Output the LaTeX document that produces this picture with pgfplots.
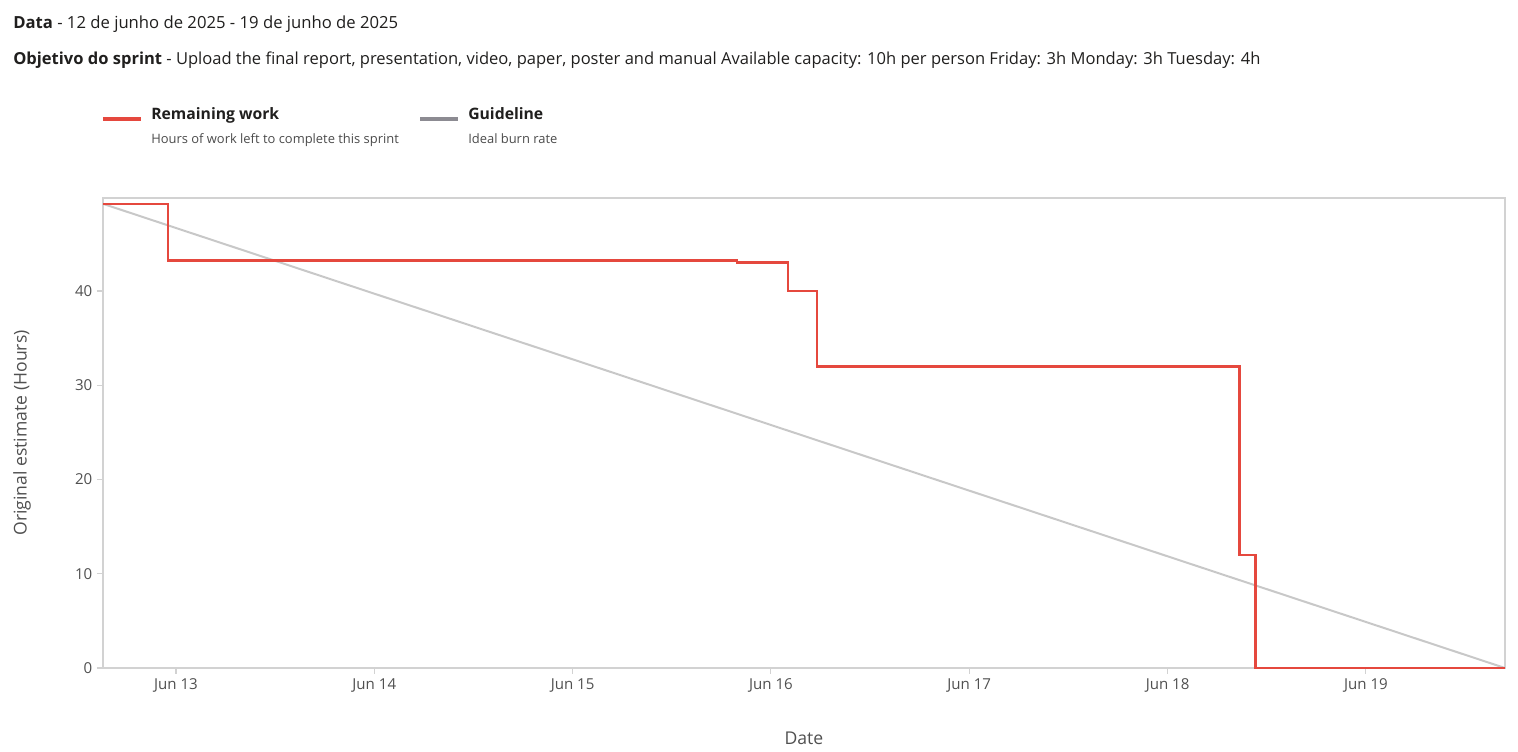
\documentclass[border=0pt]{standalone}
\usepackage{pgfplots}
\pgfplotsset{compat=1.18}
\usepackage{fontspec}
\setmainfont{Open Sans}
\definecolor{redline}{RGB}{229,72,62}
\definecolor{guide}{RGB}{200,200,200}
\definecolor{framec}{RGB}{210,210,210}
\definecolor{ticktext}{RGB}{80,80,80}
\definecolor{legswatch}{RGB}{140,139,146}
\definecolor{dark}{RGB}{32,31,30}
\definecolor{subtext}{RGB}{75,75,75}
\begin{document}
\begin{tikzpicture}
\path[use as bounding box] (-77.25pt,-63pt) rectangle (1061.25pt,501pt);
\begin{axis}[
  at={(0,0)}, anchor=south west,
  scale only axis, width=1051.5pt, height=352.5pt,
  xmin=12.632, xmax=19.701, ymin=0, ymax=49.87,
  axis line style={framec, line width=1.2pt},
  xtick={13,14,15,16,17,18,19},
  xticklabels={Jun 13,Jun 14,Jun 15,Jun 16,Jun 17,Jun 18,Jun 19},
  ytick={0,10,20,30,40},
  xtick pos=bottom, ytick pos=left,
  tick align=outside, major tick length=4.5pt,
  tick style={framec, line width=0.8pt},
  tick label style={font=\fontsize{11.3}{13}\selectfont, text=ticktext},
  /pgf/number format/assume math mode=true,
  xlabel={Date}, ylabel={Original estimate (Hours)},
  label style={font=\fontsize{13.2}{15}\selectfont, text=ticktext},
  x label style={at={(axis description cs:0.5,-0.149)}, anchor=center},
  y label style={at={(axis description cs:-0.0578,0.5)}, anchor=center},
  clip=false,
]
\addplot[guide, line width=1.5pt] coordinates {(12.632,49.25) (19.701,0)};
\addplot[redline, line width=2pt, const plot] coordinates {
  (12.632,49.25) (12.96,43.25) (15.829,43) (16.086,40) (16.232,32)
  (18.363,12) (18.444,0) (19.701,0)};
\end{axis}
\begin{scope}[x=0.75pt, y=-0.75pt, shift={(-103,-668)}]
  \node[anchor=base west, inner sep=0, text=dark, font=\fontsize{12.5}{15}\selectfont] at (13,29)
    {\textbf{Data} - 12 de junho de 2025 - 19 de junho de 2025};
  \node[anchor=base west, inner sep=0, text=dark, font=\fontsize{12.4}{15}\selectfont] at (13,65)
    {\textbf{Objetivo do sprint} - Upload the final report, presentation, video, paper, poster and manual Available capacity: 10h per person Friday: 3h Monday: 3h Tuesday: 4h};
  \draw[redline, line width=2.6pt] (103,119) -- (141,119);
  \draw[legswatch, line width=2.6pt] (420,119) -- (458,119);
  \node[anchor=base west, inner sep=0, text=dark, font=\fontsize{11.8}{14}\selectfont\bfseries] at (151,120) {Remaining work};
  \node[anchor=base west, inner sep=0, text=dark, font=\fontsize{11.8}{14}\selectfont\bfseries] at (468,120) {Guideline};
  \node[anchor=base west, inner sep=0, text=subtext, font=\fontsize{9.7}{11}\selectfont] at (151,144) {Hours of work left to complete this sprint};
  \node[anchor=base west, inner sep=0, text=subtext, font=\fontsize{9.7}{11}\selectfont] at (468,144) {Ideal burn rate};
\end{scope}
\end{tikzpicture}
\end{document}
